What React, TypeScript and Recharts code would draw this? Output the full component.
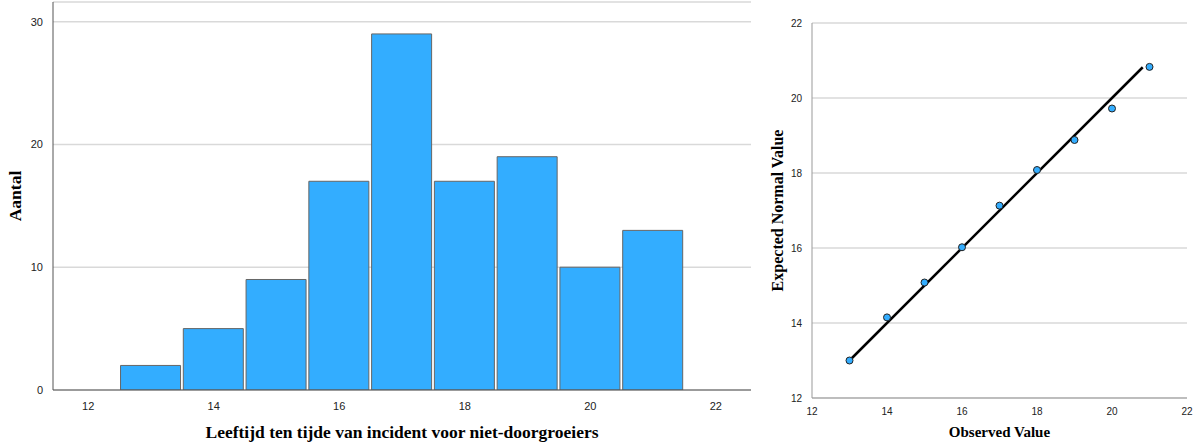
import {
  ComposedChart,
  Bar,
  XAxis,
  YAxis,
  CartesianGrid,
  ScatterChart,
  Scatter,
  Label,
} from "recharts";

// histogram: age bins and counts
const ages = [13, 14, 15, 16, 17, 18, 19, 20, 21];
const counts = [2, 5, 9, 17, 29, 17, 19, 10, 13];
const histTicks = [12, 14, 16, 18, 20, 22];
const countTicks = [0, 10, 20, 30];

// Q-Q plot
const observed = [13, 14, 15, 16, 17, 18, 19, 20, 21];
const expected = [13.0, 14.15, 15.08, 16.02, 17.13, 18.08, 18.88, 19.72, 20.83];
const fitLine = [13, 20.82];
const qqTicks = [12, 14, 16, 18, 20, 22];

const BLUE = "#33adff";
const TICK = { fill: "#222", fontSize: 11, fontFamily: "Liberation Sans, Arial, sans-serif" };
const TITLE = { fill: "#000", fontSize: 17.5, fontWeight: 700, fontFamily: "Liberation Serif, Times New Roman, serif" };

const histData = ages.map((a, i) => ({ age: a, count: counts[i] }));
const qqData = observed.map((o, i) => ({ x: o, y: expected[i] }));
const lineData = fitLine.map((v) => ({ x: v, y: v }));

function Histogram() {
  return (
    <ComposedChart
      width={760}
      height={446}
      data={histData}
      margin={{ top: 2, right: 9, bottom: 0, left: 0 }}
    >
      <CartesianGrid horizontal vertical={false} stroke="#d9d9d9" strokeWidth={1.5} />
      <XAxis
        dataKey="age"
        type="number"
        domain={[11.44, 22.56]}
        ticks={histTicks}
        allowDataOverflow
        height={56}
        tickLine={false}
        stroke="#555"
        tick={TICK}
        tickMargin={6}
      >
        <Label value="Leeftijd ten tijde van incident voor niet-doorgroeiers" position="insideBottom" offset={8} style={TITLE} />
      </XAxis>
      <YAxis
        type="number"
        domain={[0, 31.6]}
        ticks={countTicks}
        allowDataOverflow
        width={53}
        tickLine={false}
        stroke="#555"
        tick={TICK}
        tickMargin={4}
      >
        <Label value="Aantal" angle={-90} position="insideLeft" offset={15} textAnchor="middle" style={TITLE} />
      </YAxis>
      <Bar dataKey="count" fill={BLUE} stroke="#666" strokeWidth={1} barSize={60} isAnimationActive={false} />
    </ComposedChart>
  );
}

function QQPlot() {
  return (
    <ScatterChart width={437} height={446} margin={{ top: 23, right: 10, bottom: 0, left: 0 }}>
      <CartesianGrid horizontal vertical={false} stroke="#d9d9d9" strokeWidth={1.5} />
      <XAxis
        dataKey="x"
        type="number"
        domain={[12, 22]}
        ticks={qqTicks}
        height={48}
        tickLine={false}
        stroke="#999"
        tick={{ ...TICK, fontSize: 10 }}
        tickMargin={4}
      >
        <Label value="Observed Value" position="insideBottom" offset={9} style={{ ...TITLE, fontSize: 15 }} />
      </XAxis>
      <YAxis
        dataKey="y"
        type="number"
        domain={[12, 22]}
        ticks={qqTicks}
        width={52}
        tickLine={false}
        stroke="#999"
        tick={{ ...TICK, fontSize: 10 }}
        tickMargin={4}
      >
        <Label value="Expected Normal Value" angle={-90} position="insideLeft" offset={17} textAnchor="middle" style={{ ...TITLE, fontSize: 16 }} />
      </YAxis>
      <Scatter
        data={lineData}
        line={{ stroke: "#000", strokeWidth: 2.5 }}
        shape={() => <g />}
        isAnimationActive={false}
      />
      <Scatter
        data={qqData}
        fill={BLUE}
        stroke="#222"
        strokeWidth={1}
        shape={(p: any) => <circle cx={p.cx} cy={p.cy} r={3.5} fill={BLUE} stroke="#222" strokeWidth={1} />}
        isAnimationActive={false}
      />
    </ScatterChart>
  );
}

export default function App() {
  return (
    <div style={{ position: "absolute", left: 0, top: 0, width: 1197, height: 446, background: "#fff" }}>
      <div style={{ position: "absolute", left: 0, top: 0 }}>
        <Histogram />
      </div>
      <div style={{ position: "absolute", left: 760, top: 0 }}>
        <QQPlot />
      </div>
    </div>
  );
}
